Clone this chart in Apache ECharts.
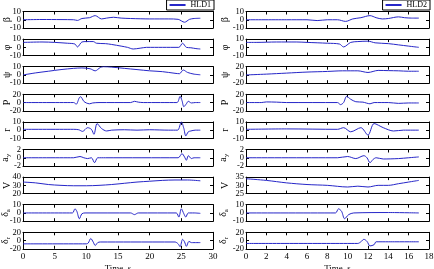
<!DOCTYPE html>
<html><head><meta charset="utf-8">
<script src="https://cdn.jsdelivr.net/npm/echarts@6/dist/echarts.min.js"></script>
<style>html,body{margin:0;padding:0;background:#fff}#c{width:434px;height:269px}</style>
</head><body><div id="c"></div>
<script>
// ---- Left column (HLD1), time 0..28 s ----
const betaL=[[0,0],[3,0.3],[6,0.2],[8,0],[8.6,-0.8],[9.3,1.5],[10.5,2.5],[11.4,5],[12.4,1],[13.2,2],[14.3,3],[15.5,2],[17,1.5],[20,1],[23,1],[24.5,0.5],[25.5,-3],[26.3,0.5],[27,1.5],[28,1.8]];
const phiL=[[0,6],[3,6.5],[5,6],[7,5],[8.2,4],[8.6,0.5],[9.3,6.5],[10,7],[11.1,7],[11.6,5],[13,4.5],[14,3.5],[15.5,1.5],[16.5,0],[17.4,-2],[18.5,-1],[19.5,0],[22,0],[24.6,0],[25.2,5],[25.8,0],[26.5,-0.5],[27.3,-1.5],[28,-2]];
const psiL=[[0,0],[2,2.5],[4,4.5],[6,6.5],[8,8],[9.3,8.5],[10.6,7.5],[11.4,5],[12.2,9],[12.7,10],[14,9.5],[16,8],[18,6.5],[20,5],[22,4],[24,2],[24.7,1.5],[25.3,6],[26,3],[27,1],[28,0.2]];
const PL=[[0,0],[8,0],[8.4,-4],[8.9,12],[9.1,14],[9.6,3],[10,-1],[10.5,-3],[11,-1],[12,0],[17,0],[17.6,3],[18.2,1],[19,0],[24.3,0],[24.8,15],[25.1,5],[25.4,-10],[25.8,-3],[26.1,3],[26.6,-1],[27.2,0],[28,0]];
const rL=[[0,1],[8,1],[8.8,0.5],[9.4,-1.5],[10.2,3],[10.8,1],[11.2,-5],[11.7,8],[12.4,2],[13.2,-1],[14,0],[16,0.5],[18,0],[20,0.5],[23,0],[24.4,0],[25,10],[25.4,2],[25.7,-7],[26.1,-2],[26.5,-1],[27.2,0],[28,0]];
const ayL=[[0,0],[8,0],[9,0.3],[9.6,0],[10.2,-0.2],[10.8,0],[11.3,-1.2],[11.8,0],[13,0],[24.5,0],[25.1,1.0],[25.5,0.2],[25.8,-0.6],[26.1,0.5],[26.6,-0.2],[27,0],[28,0]];
const VL=[[0,34],[2,33],[4,31],[6,30],[8,29.5],[10,29.5],[12,30],[14,31],[16,32.5],[18,34],[20,35],[22,36],[24,36.5],[26,36.5],[28,35.5]];
const daL=[[0,0],[7.8,0],[8.2,5],[8.5,2],[8.9,-7],[9.3,-1],[9.8,0],[17,0],[17.6,-2],[18.2,0],[24.2,0],[24.6,-5],[25,5],[25.4,-1],[25.7,-5],[26.1,0],[27,0],[28,-0.5]];
const drL=[[0,-8],[10,-8],[10.3,-6],[10.7,5],[11.1,-4],[11.4,-12],[11.8,-5],[12.2,-3.5],[17,-3.5],[24,-3.5],[24.5,-8],[24.8,-15],[25.2,3],[25.5,-3],[25.8,-14],[26.2,-2],[26.6,-5],[28,-5]];
// ---- Right column (HLD2), time 0..17 s ----
const betaR=[[0,0],[4,0],[6,0],[7,-1],[8,0],[9,0],[9.8,-2],[10.5,1],[11.3,2.5],[12.2,5],[12.8,2.5],[13.4,1],[14,1.5],[15,3.5],[15.6,2.5],[16.3,2],[17,2]];
const phiR=[[0,6],[1,6],[3,6.5],[5,6.5],[6,6],[8,5],[9.2,4],[9.6,0.5],[10.3,6],[11,7],[12,7.5],[12.7,5.5],[14,4.5],[15,3],[16,1.5],[17,0]];
const psiR=[[0,0],[2,2],[4,4.5],[6,7],[8,8.5],[9.5,10],[11,10],[12,6],[13,11],[14,10.5],[15,10],[16,9],[17,9]];
const PR=[[0,0],[1.5,0],[2,1.5],[3,1],[4,0],[9,0],[9.3,-5],[9.6,0],[9.9,15],[10.3,8],[10.8,2],[11.5,1],[12.2,-3],[12.6,0],[14,0],[15,-2],[16,-1],[17,-1]];
const rR=[[0,1],[4,1.5],[9,1],[9.6,3],[10.3,-2],[11.3,3],[12,-6],[12.6,8],[13.5,3],[14.5,-1],[15.5,0],[17,0]];
const ayR=[[0,0],[9,0],[10,0.3],[10.8,-0.2],[11.6,0.5],[11.9,0],[12.2,-1.2],[12.5,-0.4],[12.8,0],[13.5,-0.3],[15,-0.2],[16,0],[17,0.2]];
const VR=[[0,34],[2,33],[4,31.5],[6,30.5],[8,30],[10,29],[11,29.5],[12,29],[13,30],[14,30],[15,31],[16,32],[17,33]];
const daR=[[0,0],[8.8,0],[9.1,5],[9.4,2],[9.7,-7],[10.1,-2],[10.6,0],[14,0.5],[17,0]];
const drR=[[0,-7],[11,-7],[11.3,-3],[11.6,3],[11.9,-2],[12.2,-13],[12.6,-10],[12.8,-3],[14,-3],[17,-3]];
// ---- tick labels ----
const xTicksL=[0,5,10,15,20,25,30];
const xTicksR=[0,2,4,6,8,10,12,14,16,18];
const names=['β','φ','ψ','P','r','a{s|y}','V','δ{s|a}','δ{s|r}'];
const yTicksL=[[-10,0,10],[-10,0,10],[-10,0,10],[-20,0,20],[-10,0,10],[-2,0,2],[20,30,40],[-10,0,10],[-20,0,20]];
const yTicksR=[[-10,0,10],[-10,0,10],[-20,0,20],[-20,0,20],[-10,0,10],[-2,0,2],[25,30,35],[-10,0,10],[-20,0,20]];
const dataL=[betaL,phiL,psiL,PL,rL,ayL,VL,daL,drL];
const dataR=[betaR,phiR,psiR,PR,rR,ayR,VR,daR,drR];
const legendNames=['HLD1','HLD2'];
const xTitle='Time, s';

const FONT='Liberation Serif';
const col=[{left:23,width:190,nameGap:11,xt:xTicksL,yt:yTicksL,d:dataL},{left:246,width:183,nameGap:16,xt:xTicksR,yt:yTicksR,d:dataR}];
const TOP0=11.5,PITCH=27.6,H=16.5;
const grid=[],xAxis=[],yAxis=[],series=[];
const lineC='#2626c8';
const axLine={show:true,onZero:false,lineStyle:{color:'#000',width:1}};
const axTick={show:true,inside:true,length:3,lineStyle:{color:'#000'}};
col.forEach((c,ci)=>{
  for(let i=0;i<9;i++){
    const gi=grid.length;
    grid.push({left:c.left,width:c.width,top:TOP0+i*PITCH,height:H,containLabel:false,outerBoundsMode:'none'});
    const last=i===8;
    const xmin=c.xt[0],xmax=c.xt[c.xt.length-1],xint=c.xt[1]-c.xt[0];
    const base={type:'value',gridIndex:gi,min:xmin,max:xmax,interval:xint,axisLine:axLine,axisTick:axTick,splitLine:{show:false}};
    const xb=xAxis.length;
    xAxis.push(Object.assign({},base,{position:'bottom',
      axisLabel:{show:last,fontFamily:FONT,fontSize:9,color:'#000',margin:3,hideOverlap:false},
      name:last?xTitle:'',nameLocation:'middle',nameGap:15,nameMoveOverlap:false,nameTextStyle:{fontFamily:FONT,fontSize:9,color:'#000'}}));
    xAxis.push(Object.assign({},base,{position:'top',axisLabel:{show:false}}));
    const yt=c.yt[i];
    // left: category axis carrying the tick labels (evenly spaced ticks min..max)
    yAxis.push({type:'category',gridIndex:gi,position:'left',data:yt.map(String),boundaryGap:false,
      axisLine:axLine,axisTick:Object.assign({},axTick,{interval:0}),splitLine:{show:false},
      axisLabel:{show:true,interval:0,hideOverlap:false,fontFamily:FONT,fontSize:8.5,color:'#000',margin:2,lineHeight:8},
      name:names[i],nameLocation:'middle',nameRotate:90,nameGap:c.nameGap,nameMoveOverlap:false,
      nameTextStyle:{fontFamily:FONT,fontSize:10,color:'#000',rich:{s:{fontFamily:FONT,fontSize:7,verticalAlign:'bottom',padding:[6,0,0,0]}}}});
    const yb=yAxis.length;
    // right: value axis that scales the series
    yAxis.push({type:'value',gridIndex:gi,position:'right',min:yt[0],max:yt[2],interval:yt[1]-yt[0],
      axisLine:axLine,axisTick:axTick,splitLine:{show:false},axisLabel:{show:false}});
    series.push({type:'line',name:legendNames[ci],xAxisIndex:xb,yAxisIndex:yb,data:c.d[i],
      showSymbol:false,symbol:'none',smooth:0.3,lineStyle:{color:lineC,width:1},itemStyle:{color:lineC},animation:false,z:3});
  }
});
const legendBase={top:0,orient:'horizontal',itemWidth:16,itemHeight:2,icon:'rect',itemGap:2,
  padding:[1,3,1,3],borderColor:'#000',borderWidth:1,backgroundColor:'#fff',
  textStyle:{fontFamily:FONT,fontSize:8,color:'#000'}};
const chart=echarts.init(document.getElementById('c'),null,{renderer:'canvas'});
chart.setOption({animation:false,backgroundColor:'#fff',
  legend:[Object.assign({},legendBase,{data:['HLD1'],right:434-214}),Object.assign({},legendBase,{data:['HLD2'],right:4})],
  grid,xAxis,yAxis,series});
</script></body></html>
